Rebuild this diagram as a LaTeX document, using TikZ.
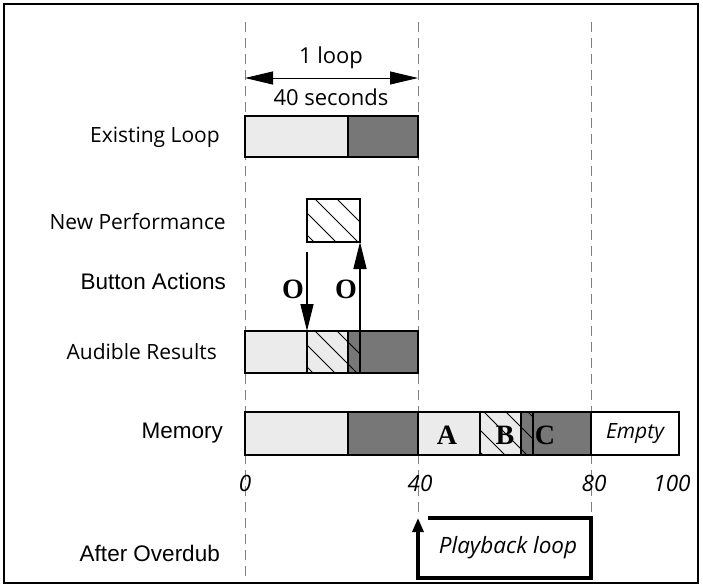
\documentclass[tikz,border=0pt]{standalone}
\usepackage{fontspec}
\setmainfont{Open Sans}
\newfontfamily\helv{Liberation Sans}
\newfontfamily\tms{Liberation Serif}
\usetikzlibrary{arrows.meta}

\definecolor{lightbar}{HTML}{EBEBEB}
\definecolor{darkbar}{HTML}{777777}
\definecolor{guide}{HTML}{808080}

\tikzset{
  seg/.style={draw=black, line width=1.7pt, inner sep=0pt, outer sep=0pt, anchor=north west},
  lbl/.style={anchor=east, font=\fontsize{21}{23}\selectfont, inner sep=0pt},
  lblh/.style={anchor=east, font=\helv\fontsize{22.5}{24}\selectfont, inner sep=0pt},
  axisnum/.style={font=\itshape\fontsize{22.5}{24}\selectfont, inner sep=0pt},
  letter/.style={font=\tms\bfseries\fontsize{28}{30}\selectfont, inner sep=0pt},
  guideline/.style={draw=guide, line width=0.9pt, dash pattern=on 10pt off 6pt},
  bigarrow/.style={line width=1.5pt, -{Triangle[length=27pt,width=13pt]}},
  dimarrow/.style={line width=1pt, {Triangle[length=28pt,width=13pt]}-{Triangle[length=28pt,width=13pt]}},
}

% one bar segment: name, x-left, x-right, y-top, y-bottom, fill
\newcommand{\barseg}[6]{%
  \node[seg, fill=#6, minimum width=#3-#2, minimum height=#5-#4] (#1) at (#2,#4) {};}
% diagonal hatching clipped to a named segment
\newcommand{\hatchin}[1]{%
  \begin{scope}
    \clip (#1.north west) rectangle (#1.south east);
    \foreach \c in {-500,-478,...,720} \draw[line width=0.8pt] (\c,0) -- ++(600,600);
  \end{scope}}

\begin{document}
\begin{tikzpicture}[x=1pt,y=-1pt]
  \useasboundingbox (0,0) rectangle (703,587);
  \draw[line width=2pt] (4,4) rectangle (698,583);

  % time guides at 0, 40 and 80 seconds
  \draw[guideline] (245,22) -- (245,576);
  \draw[guideline] (418,22) -- (418,518);
  \draw[guideline] (591,22) -- (591,518);

  % loop length dimension
  \coordinate (d0) at (245,78);
  \coordinate (d1) at (418,78);
  \draw[dimarrow] (d0) -- (d1);
  \node[font=\fontsize{22}{24}\selectfont] (oneloop) at (331,58) {1 loop};
  \node[font=\fontsize{22}{24}\selectfont] (forty) at (331,97) {40 seconds};

  % row labels
  \node[lbl] (lexist) at (220,137) {Existing Loop};
  \node[lbl] (lnew) at (226,222) {New Performance};
  \node[lbl] (laud) at (217,352) {Audible Results};
  \node[lblh] (lbtn) at (226,281) {Button Actions};
  \node[lblh] (lmem) at (223,433) {Memory};
  \node[lblh] (lafter) at (220,553) {After Overdub};

  % existing loop
  \barseg{ex1}{245}{348}{116}{157}{lightbar}
  \barseg{ex2}{348}{418}{116}{157}{darkbar}

  % new performance
  \barseg{np}{307}{360}{199}{242}{white}
  \hatchin{np}
  \draw[line width=1.7pt] (np.north west) rectangle (np.south east);

  % audible results
  \barseg{au1}{245}{307}{331}{373}{lightbar}
  \barseg{au2}{307}{348}{331}{373}{lightbar}
  \barseg{au3}{348}{360}{331}{373}{darkbar}
  \barseg{au4}{360}{418}{331}{373}{darkbar}
  \hatchin{au2}
  \hatchin{au3}
  \draw[line width=1.7pt] (au2.north west) rectangle (au2.south east);
  \draw[line width=1.7pt] (au3.north west) rectangle (au3.south east);

  % button actions
  \coordinate (press1) at (307,252);
  \draw[bigarrow] (press1) -- (au2.north west);
  \draw[bigarrow] (au3.south east) -- (np.south east);
  \node[letter] (o1) at (293,289) {O};
  \node[letter] (o2) at (346,289) {O};

  % memory
  \barseg{m1}{245}{348}{412}{455}{lightbar}
  \barseg{m2}{348}{418}{412}{455}{darkbar}
  \barseg{m3}{418}{480}{412}{455}{lightbar}
  \barseg{m4}{480}{521}{412}{455}{lightbar}
  \barseg{m5}{521}{533}{412}{455}{darkbar}
  \barseg{m6}{533}{591}{412}{455}{darkbar}
  \barseg{m7}{591}{679}{412}{455}{white}
  \hatchin{m4}
  \hatchin{m5}
  \draw[line width=1.7pt] (m4.north west) rectangle (m4.south east);
  \draw[line width=1.7pt] (m5.north west) rectangle (m5.south east);
  \node[letter] (la) at (447,435) {A};
  \node[letter] (lb) at (505,435) {B};
  \node[letter] (lc) at (545,435) {C};
  \node[font=\itshape\fontsize{21}{23}\selectfont] (lempty) at (635,434) {Empty};

  % seconds axis
  \node[axisnum] (t0) at (245,483) {0};
  \node[axisnum] (t40) at (420,483) {40};
  \node[axisnum] (t80) at (594,483) {80};
  \node[axisnum] (t100) at (672,483) {100};

  % playback loop after overdub
  \node[font=\itshape\fontsize{22.5}{24}\selectfont] (pb) at (508,548) {Playback loop};
  \coordinate (pbstart) at (428,518);
  \coordinate (pbtip) at (418,518);
  \draw[line width=3.2pt, -{Triangle[length=14pt,width=11pt]}]
    (pbstart) -- (591,518) -- (591,578) -- (418,578) -- (pbtip);
\end{tikzpicture}
\end{document}
